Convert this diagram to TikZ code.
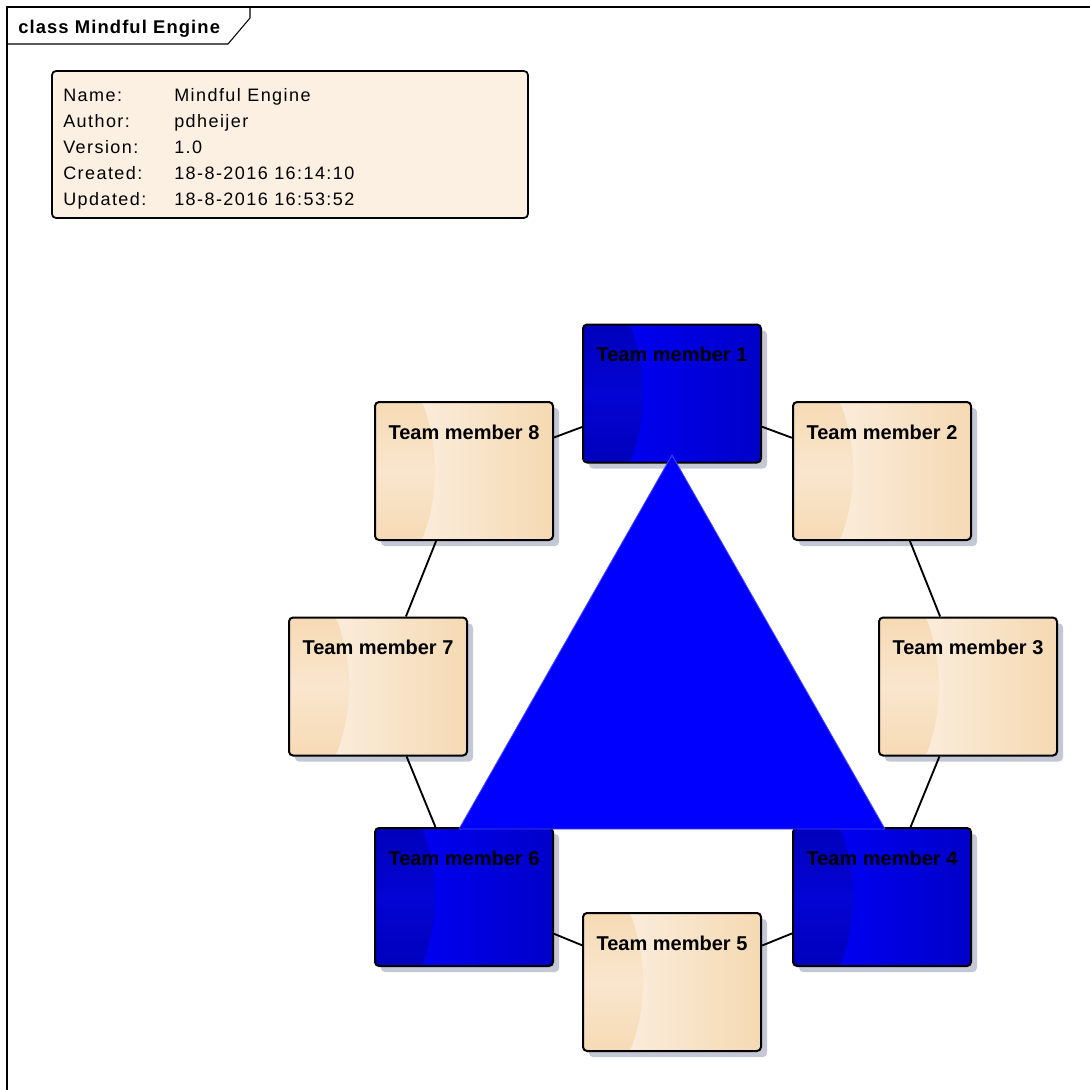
\documentclass[tikz,border=0pt]{standalone}
\usepackage{fontspec}
\setmainfont{Liberation Sans}
\newfontfamily\notefont[LetterSpace=8]{Liberation Sans}
\newfontfamily\titlefont[LetterSpace=6]{Liberation Sans}
\usetikzlibrary{shadows,calc}
\definecolor{creamL}{HTML}{FCF3E8}
\definecolor{creamR}{HTML}{F5D9B3}
\definecolor{creamA}{HTML}{F6DAB4}
\definecolor{creamB}{HTML}{F9E6CE}
\definecolor{blueL}{HTML}{0000FF}
\definecolor{blueR}{HTML}{0000C8}
\definecolor{blueA}{HTML}{0000BC}
\definecolor{blueB}{HTML}{0404D4}
\definecolor{notefill}{HTML}{FBF0E1}
\definecolor{shadowc}{HTML}{C4C8D4}
\definecolor{trifill}{HTML}{0000FF}
\definecolor{triedge}{HTML}{4848FF}
\newcommand\mbshade[4]{%
  \shade[left color=#1,right color=#2] (path picture bounding box.south west) rectangle (path picture bounding box.north east);
  \shade[top color=#3,bottom color=#3,middle color=#4]
    (path picture bounding box.north west)
    -- ($(path picture bounding box.north west)+(47,0)$)
    .. controls ($(path picture bounding box.north west)+(64,46)$) and ($(path picture bounding box.south west)+(64,-46)$)
    .. ($(path picture bounding box.south west)+(47,0)$)
    -- (path picture bounding box.south west) -- cycle;
}
\tikzset{
  memberbase/.style={draw=black, line width=1.5pt, rounded corners=3pt,
    minimum width=133.5pt, minimum height=103.5pt, inner sep=0pt,
    drop shadow={shadow xshift=4.5pt, shadow yshift=-4.5pt, fill=shadowc, opacity=1}},
  creambox/.style={memberbase, path picture={\mbshade{creamL}{creamR}{creamA}{creamB}}},
  bluebox/.style={memberbase, path picture={\mbshade{blueL}{blueR}{blueA}{blueB}}},
  mlabel/.style={font=\fontsize{15pt}{18pt}\selectfont\bfseries, anchor=base, inner sep=0pt},
  notetext/.style={font=\notefont\fontsize{13.5pt}{16pt}\selectfont, anchor=base west, inner sep=0pt},
  edge/.style={draw=black, line width=1.4pt},
  frameline/.style={draw=black, line width=0.8pt}
}
\begin{document}
\begin{tikzpicture}[x=0.75pt,y=-0.75pt]
\useasboundingbox (0,0) rectangle (1090,1090);
% frame
\draw[frameline] (7,1090) -- (7,7) -- (1090,7);
\draw[frameline] (7,44) -- (228,44) -- (250,18) -- (250,7);
\node[anchor=base west, inner sep=0pt, font=\titlefont\fontsize{13.8pt}{16pt}\selectfont\bfseries] (title) at (18,33) {class Mindful Engine};
% note
\node[draw=black, line width=1.3pt, rounded corners=3pt, fill=notefill, minimum width=357pt, minimum height=110.25pt, inner sep=0pt] (note) at (290,144.5) {};
\node[notetext] (k1) at (63,101) {Name:};
\node[notetext] (k2) at (63,127.2) {Author:};
\node[notetext] (k3) at (63,153.4) {Version:};
\node[notetext] (k4) at (63,179.6) {Created:};
\node[notetext] (k5) at (63,205.8) {Updated:};
\node[notetext] (v1) at (174,101) {Mindful Engine};
\node[notetext] (v2) at (174,127.2) {pdheijer};
\node[notetext] (v3) at (174,153.4) {1.0};
\node[notetext] (v4) at (174,179.6) {18-8-2016 16:14:10};
\node[notetext] (v5) at (174,205.8) {18-8-2016 16:53:52};
% member coordinates
\coordinate (p1) at (672,393.5);
\coordinate (p2) at (882,471);
\coordinate (p3) at (968,686.5);
\coordinate (p4) at (882,897);
\coordinate (p5) at (672,982);
\coordinate (p6) at (464,897);
\coordinate (p7) at (378,686.5);
\coordinate (p8) at (464,471);
% boxes
\node[bluebox]  (m1) at (p1) {};
\node[creambox] (m2) at (p2) {};
\node[creambox] (m3) at (p3) {};
\node[bluebox]  (m4) at (p4) {};
\node[creambox] (m5) at (p5) {};
\node[bluebox]  (m6) at (p6) {};
\node[creambox] (m7) at (p7) {};
\node[creambox] (m8) at (p8) {};
% edges
\draw[edge] (m1) -- (m2);
\draw[edge] (m2) -- (m3);
\draw[edge] (m3) -- (m4);
\draw[edge] (m4) -- (m5);
\draw[edge] (m5) -- (m6);
\draw[edge] (m6) -- (m7);
\draw[edge] (m7) -- (m8);
\draw[edge] (m8) -- (m1);
% labels
\foreach \i in {1,...,8} {
  \node[mlabel] (l\i) at ($(m\i.north)+(0,38)$) {Team member \i};
}
% triangle
\coordinate (ta) at (672,455);
\coordinate (tl) at (459,829);
\coordinate (tr) at (885,829);
\filldraw[fill=trifill, draw=triedge, line width=0.6pt] (ta) -- (tl) -- (tr) -- cycle;
\end{tikzpicture}
\end{document}
